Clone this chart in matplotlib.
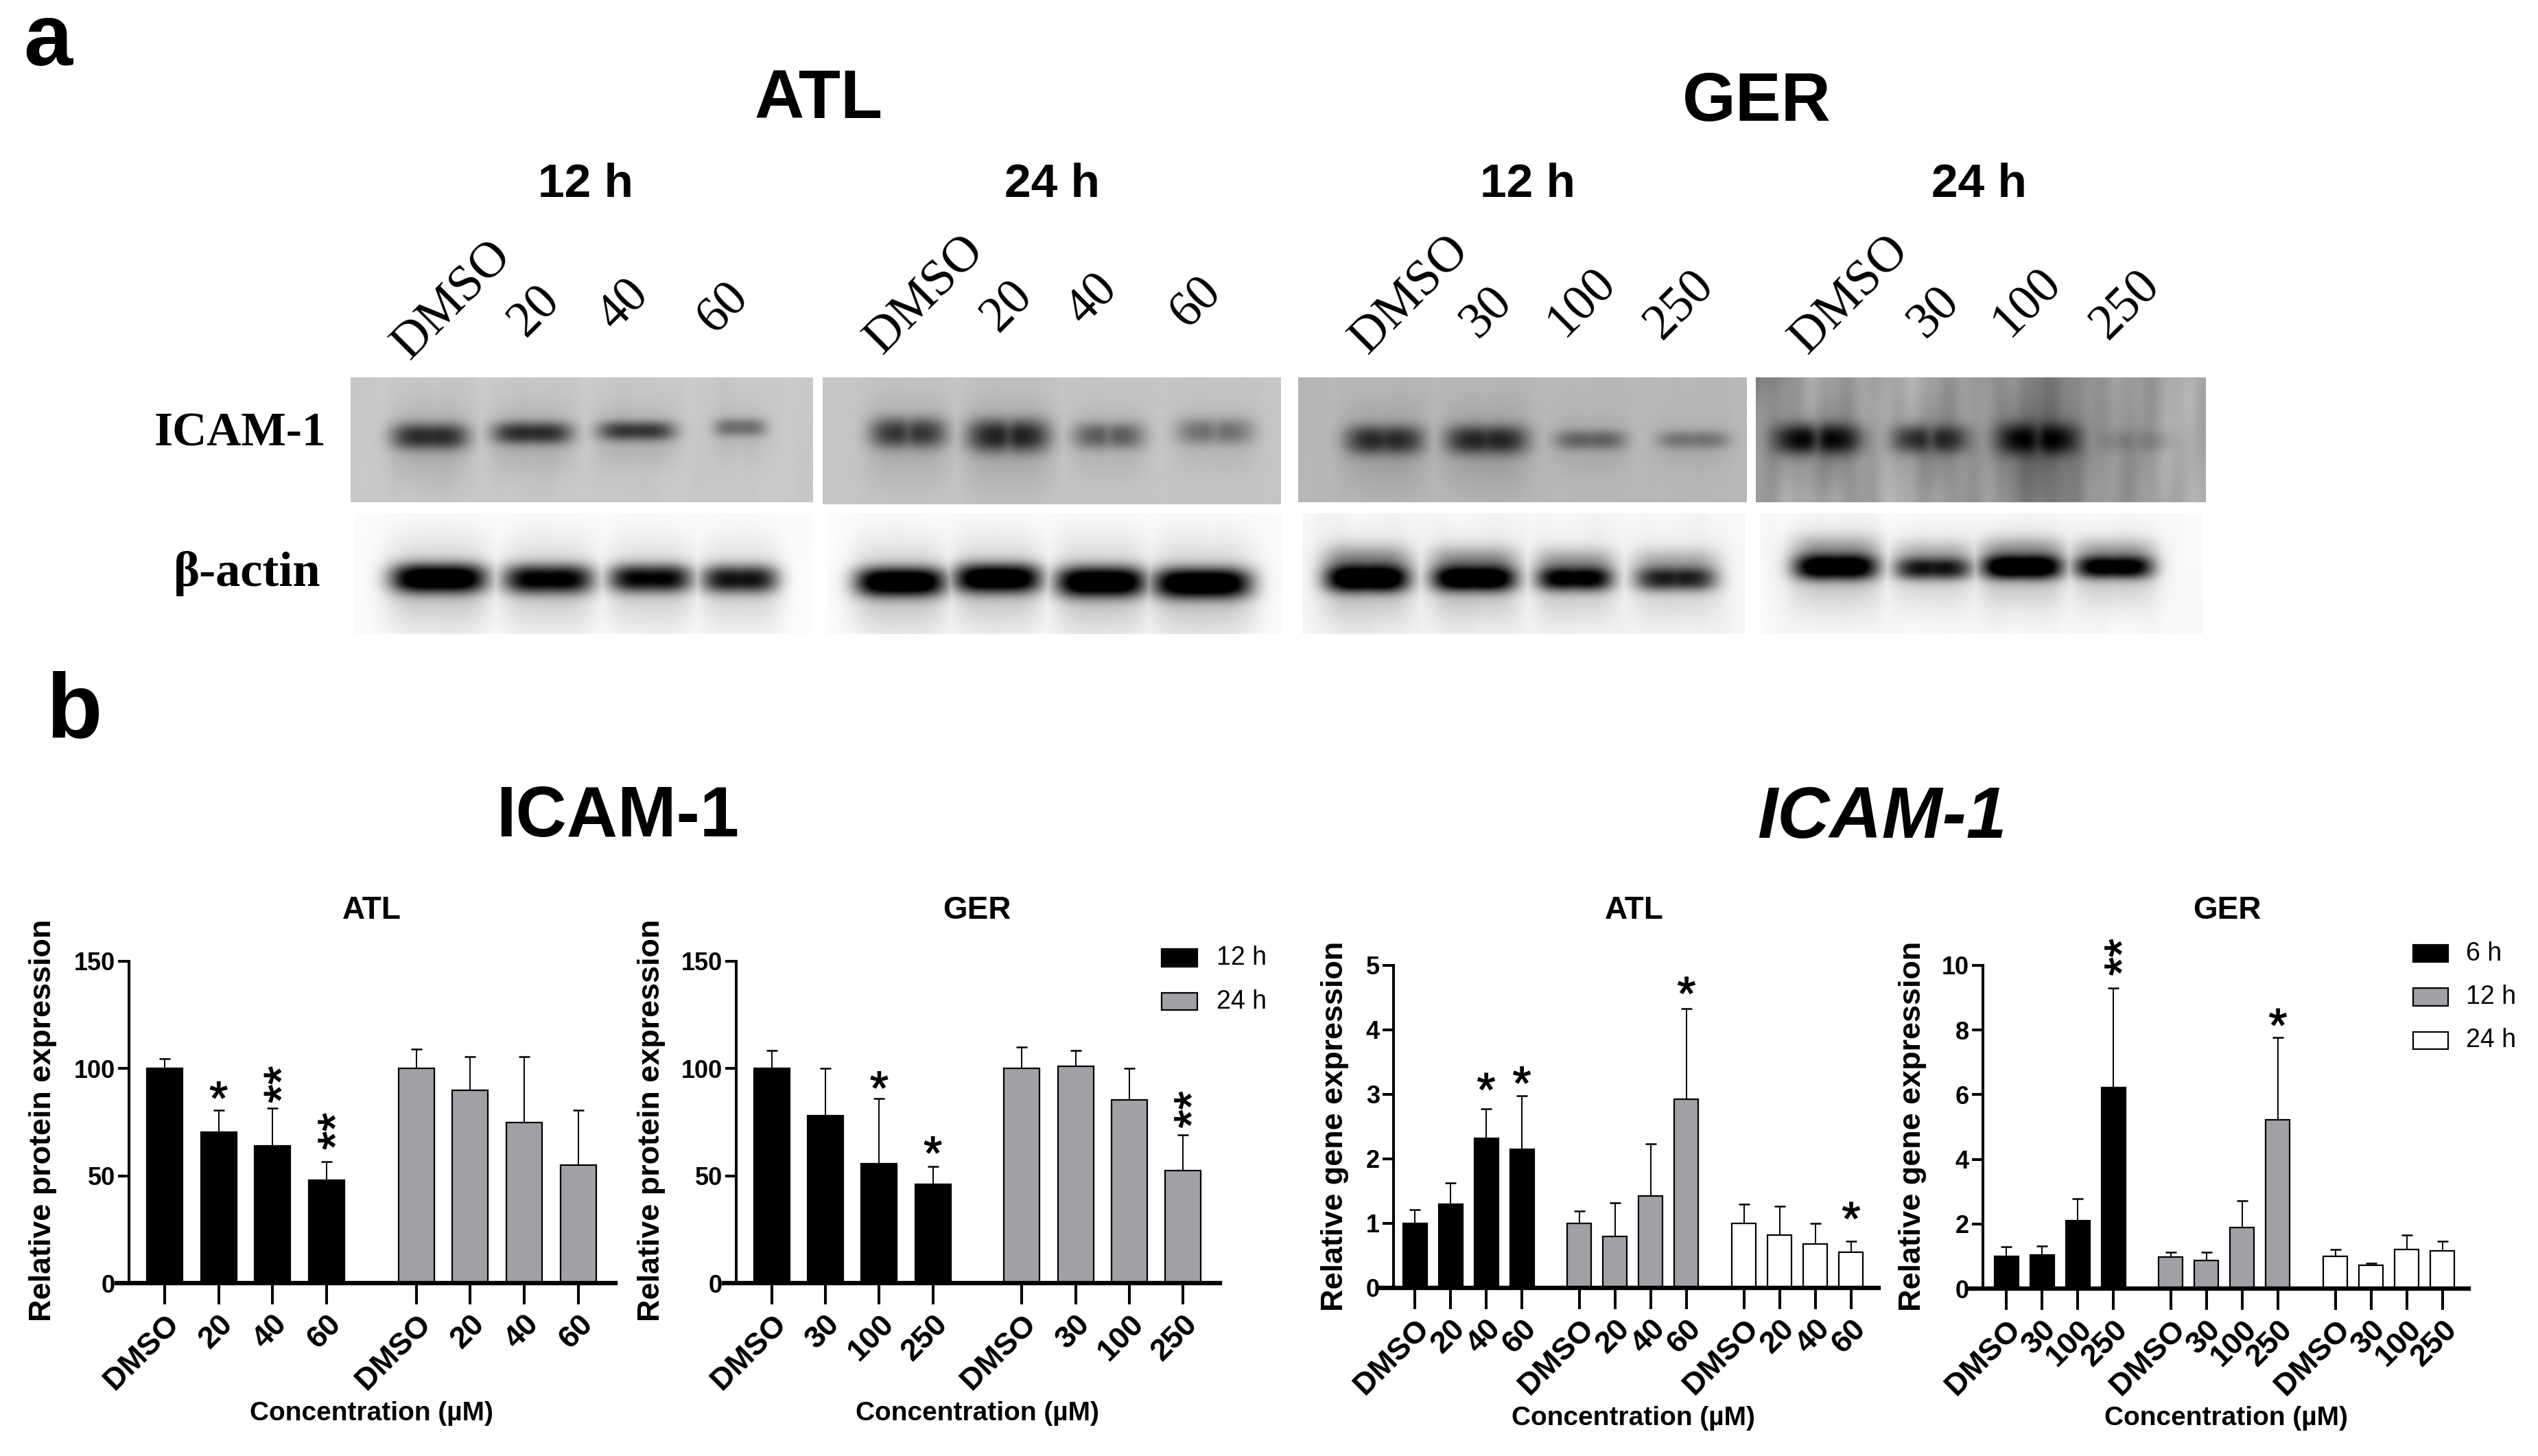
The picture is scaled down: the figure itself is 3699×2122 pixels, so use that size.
import numpy as np
import matplotlib
matplotlib.use("Agg")
import matplotlib.pyplot as plt
import matplotlib.patheffects as pe
from matplotlib.patches import Rectangle
from matplotlib.textpath import TextPath
from matplotlib.font_manager import FontProperties

W, H, DPI = 3699, 2122, 100
SANS = "Liberation Sans"
SERIF = "Liberation Serif"

# ---------- bar data ----------
atl_conc = ["DMSO", "20", "40", "60"]
ger_conc = ["DMSO", "30", "100", "250"]

prot_atl_12 = [100, 70.5, 64, 48]
prot_atl_12_err = [4.7, 10, 17.5, 8.5]
prot_atl_24 = [100, 90, 75, 55]
prot_atl_24_err = [9, 15.7, 30.6, 25.6]

prot_ger_12 = [100, 78, 55.7, 46]
prot_ger_12_err = [8.3, 22, 30.3, 8.5]
prot_ger_24 = [100, 101, 85.5, 52.5]
prot_ger_24_err = [10, 7.5, 14.5, 16.5]

gene_atl_6 = [1, 1.3, 2.32, 2.15]
gene_atl_6_err = [0.21, 0.33, 0.46, 0.83]
gene_atl_12 = [1, 0.8, 1.43, 2.93]
gene_atl_12_err = [0.19, 0.52, 0.8, 1.4]
gene_atl_24 = [1, 0.82, 0.68, 0.55]
gene_atl_24_err = [0.3, 0.45, 0.32, 0.17]

gene_ger_6 = [1, 1.05, 2.1, 6.22]
gene_ger_6_err = [0.3, 0.27, 0.68, 3.08]
gene_ger_12 = [0.98, 0.88, 1.9, 5.22]
gene_ger_12_err = [0.14, 0.24, 0.82, 2.56]
gene_ger_24 = [1, 0.73, 1.2, 1.17]
gene_ger_24_err = [0.22, 0.05, 0.45, 0.3]

# significance marks: (group, bar, height in data units, text)
stars_prot_atl = [(0, 1, 90, "*"), (0, 2, 92.5, "**"), (0, 3, 70.7, "**")]
stars_prot_ger = [(0, 2, 94.7, "*"), (0, 3, 64.4, "*"), (1, 3, 80.8, "**")]
stars_gene_atl = [(0, 2, 3.2, "*"), (0, 3, 3.3, "*"), (1, 3, 4.69, "*"), (2, 3, 1.2, "*")]
stars_gene_ger = [(0, 3, 10.25, "**"), (1, 3, 8.4, "*")]

BLACK, GREY, WHITE = "#000000", "#a0a1a4", "#ffffff"

# ---------- blot band tables: centre x, centre y, half-width, half-height, darkness ----------
icam_atl12 = [(626, 635, 56, 19, .62), (775, 630, 58, 16, .62), (927, 627, 56, 14, .58), (1078, 622, 38, 13, .36)]
icam_atl24 = [(1323, 631, 56, 22, .58), (1469, 635, 60, 24, .66), (1615, 635, 52, 19, .42), (1770, 629, 56, 19, .34)]
icam_ger12 = [(2017, 640, 57, 21, .62), (2166, 640, 60, 21, .64), (2317, 640, 52, 14, .38), (2467, 640, 52, 13, .30)]
icam_ger24 = [(2648, 639, 64, 22, .78), (2813, 639, 56, 20, .60), (2969, 639, 60, 23, .80), (3112, 642, 55, 15, .14)]
actin_atl12 = [(639, 842, 70, 21, .99), (799, 843, 66, 21, .84), (948, 842, 61, 20, .80), (1078, 843, 56, 20, .74)]
actin_atl24 = [(1312, 847, 66, 21, .99), (1453, 842, 64, 21, .97), (1604, 847, 66, 22, .99), (1751, 849, 72, 22, 1.0)]
actin_ger12 = [(1992, 843, 62, 19, 1.0), (2148, 843, 62, 18, .98), (2295, 843, 56, 17, .84), (2442, 843, 60, 17, .68)]
actin_ger24 = [(2675, 826, 62, 18, .96), (2817, 828, 57, 16, .72), (2947, 826, 60, 17, 1.0), (3081, 826, 58, 16, .88)]

blots = [
    # x0, x1, y0, y1, background, streak strength, two-lobe depth, upward smear, bands
    (511, 1185, 550, 732, .785, .012, .03, 0, icam_atl12),
    (1199, 1867, 550, 735, .775, .002, .22, 0, icam_atl24),
    (1892, 2546, 550, 732, .72, .006, .10, 0, icam_ger12),
    (2559, 3215, 550, 732, .66, .075, .38, 0, icam_ger24),
    (516, 1185, 748, 924, .985, .004, .03, 0, actin_atl12),
    (1206, 1870, 748, 924, .985, .004, .0, 0, actin_atl24),
    (1898, 2543, 748, 924, .965, .012, .06, .30, actin_ger12),
    (2565, 3210, 748, 924, .975, .010, .05, .25, actin_ger24),
]


def px_axes(fig, x0, y0, x1, y1, **kw):
    return fig.add_axes([x0 / W, 1 - y1 / H, (x1 - x0) / W, (y1 - y0) / H], **kw)


def ftext(fig, x, y, s, **kw):
    kw.setdefault("ha", "center")
    kw.setdefault("va", "center")
    kw.setdefault("family", SANS)
    return fig.text(x / W, 1 - y / H, s, **kw)


def draw_blot(fig, x0, x1, y0, y1, bg, streak, lobe, smear, bands):
    ax = px_axes(fig, x0, y0, x1, y1)
    xs = np.arange(x0, x1, 2.0)
    ys = np.arange(y0, y1, 2.0)
    X, Y = np.meshgrid(xs, ys)
    ph = x0 * 0.013
    tex = (np.sin(X * .045 + ph + np.sin(Y * .012) * 1.2)
           + .7 * np.sin(X * .083 + 2 * ph + np.sin(Y * .019) * 1.5)
           + .5 * np.sin(X * .17 + 3 * ph)) / 2.2
    img = bg + streak * tex
    dark = np.zeros_like(X)
    for cx, cy, hw, hh, d in bands:
        dx = (X - cx) / hw
        dy = (Y - cy) / hh
        core = np.exp(-dx ** 4) * np.exp(-np.abs(dy) ** 2.4)
        core = core * (1 - lobe * np.exp(-(dx / .16) ** 2))
        halo = .22 * np.exp(-(dx / 1.1) ** 4) * np.exp(-((Y - cy - .5 * hh) / (3 * hh)) ** 2)
        up = smear * np.exp(-(dx / 1.05) ** 4) * np.exp(-((Y - cy + 1.5 * hh) / (1.1 * hh)) ** 2)
        dark = np.maximum(dark, d * core + d * halo + d * up)
    img = img * (1 - np.clip(dark * 1.05, 0, 1))
    if streak > .05:
        img = img * (1 - .28 * np.exp(-(X - x0) / 60.) * np.exp(-(Y - y0) / 60.))
        img = img * (1 - .22 * np.exp(-((X - 2985) / 110.) ** 2))
    ax.imshow(np.clip(img, 0, 1), cmap="gray", vmin=0, vmax=1, aspect="auto", interpolation="bilinear")
    ax.axis("off")


def draw_star(ax, x, y, s, size=50):
    fp = FontProperties(family=SANS, size=size)
    cy = TextPath((0, 0), "*", prop=fp).get_extents()
    c = (cy.y0 + cy.y1) / 2
    stroke = [pe.withStroke(linewidth=0.9, foreground="black")]
    if s == "*":
        ax.annotate(s, (x, y), xytext=(0, -c), textcoords="offset points", ha="center", va="baseline",
                    fontproperties=fp, annotation_clip=False, path_effects=stroke)
    else:
        ax.annotate(s, (x, y), xytext=(c, 0), textcoords="offset points", ha="center", va="baseline",
                    rotation=90, rotation_mode="anchor", fontproperties=fp, annotation_clip=False,
                    path_effects=stroke)


def bar_panel(fig, box, axis_x, ymax, yticks, labels, series, gap, bar_px, stars, title, title_x, title_y,
              ylabel, ylabel_x, ylabel_y, xlabel_x, xlabel_y, first_px, spacing_px):
    x0, y0, x1, y1 = box
    ax = px_axes(fig, x0, y0, x1, y1)
    ax.patch.set_alpha(0)
    n = len(labels)
    to_data = lambda p: (p - first_px) / spacing_px
    ticks, ticklabels, centre = [], [], {}
    for g, (vals, errs, col) in enumerate(series):
        xs = np.arange(n) + g * (n - 1 + gap)
        ax.bar(xs, vals, width=bar_px / spacing_px, color=col, edgecolor="black", linewidth=1.6, zorder=2)
        ax.errorbar(xs, vals, yerr=[np.zeros(n), errs], fmt="none", ecolor="black", elinewidth=1.4,
                    capsize=5.5, capthick=1.8, zorder=1)
        ticks.extend(xs)
        ticklabels.extend(labels)
        for i, x in enumerate(xs):
            centre[(g, i)] = x
    ax.set_xlim(to_data(x0), to_data(x1))
    ax.set_ylim(0, ymax)
    ax.spines["top"].set_visible(False)
    ax.spines["right"].set_visible(False)
    ax.spines["left"].set_position(("data", to_data(axis_x)))
    ax.spines["left"].set_linewidth(2.9)
    ax.spines["bottom"].set_linewidth(4.6)
    ax.spines["bottom"].set_zorder(5)
    ax.set_yticks(yticks)
    ax.set_xticks(ticks)
    ax.set_xticklabels(ticklabels, rotation=45, ha="right", va="top", rotation_mode="anchor",
                       family=SANS, weight="bold", fontsize=32.5)
    for lab in ax.get_yticklabels():
        lab.set_family(SANS)
        lab.set_weight("bold")
        lab.set_fontsize(26)
    ax.tick_params(axis="y", length=11.5, width=2.9, pad=3)
    ax.tick_params(axis="x", length=22, width=2.9, pad=6)
    for g, i, y, s in stars:
        draw_star(ax, centre[(g, i)], y, s)
    ftext(fig, title_x, title_y, title, weight="bold", fontsize=33)
    ftext(fig, ylabel_x, ylabel_y, ylabel, weight="bold", fontsize=32.4, rotation=90)
    ftext(fig, xlabel_x, xlabel_y, "Concentration (µM)", weight="bold", fontsize=28)
    return ax


def legend_items(fig, x0, x1, tx, rows):
    for (y0, y1, col, lab) in rows:
        fig.add_artist(Rectangle((x0 / W, 1 - y1 / H), (x1 - x0) / W, (y1 - y0) / H, transform=fig.transFigure,
                                 facecolor=col, edgecolor="black", linewidth=1.6))
        ftext(fig, tx, (y0 + y1) / 2, lab, ha="left", fontsize=27)


fig = plt.figure(figsize=(W / DPI, H / DPI), dpi=DPI, facecolor="white")

# panel letters and headings
ftext(fig, 70, 62, "a", weight="bold", fontsize=92)
ftext(fig, 108, 1040, "b", weight="bold", fontsize=96)
ftext(fig, 1193, 146, "ATL", weight="bold", fontsize=72)
ftext(fig, 2560, 150, "GER", weight="bold", fontsize=72)
for x, s in [(853, "12 h"), (1533, "24 h"), (2226, "12 h"), (2884, "24 h")]:
    ftext(fig, x, 269, s, weight="bold", fontsize=50)

# lane labels (bottom-left anchors)
lane_sets = [
    (atl_conc, [(598, 526), (766, 493), (896, 484), (1042, 488)]),
    (atl_conc, [(1287, 518), (1455, 486), (1579, 476), (1731, 480)]),
    (ger_conc, [(1994, 518), (2154, 495), (2279, 493), (2422, 497)]),
    (ger_conc, [(2635, 518), (2806, 495), (2928, 493), (3072, 497)]),
]
for labs, anchors in lane_sets:
    for s, (x, y) in zip(labs, anchors):
        ftext(fig, x, y, s, family=SERIF, fontsize=53, rotation=45, rotation_mode="anchor",
              ha="left", va="baseline")

for b in blots:
    draw_blot(fig, *b)

ftext(fig, 350, 632, "ICAM-1", family=SERIF, weight="bold", fontsize=50)
ftext(fig, 360, 836, "β-actin", family=SERIF, weight="bold", fontsize=52)

ftext(fig, 900, 1193, "ICAM-1", weight="bold", fontsize=74)
ftext(fig, 2743, 1193, "ICAM-1", weight="bold", style="italic", fontsize=76)

bar_panel(fig, (170, 1401, 897, 1870), 188, 150, [0, 50, 100, 150], atl_conc,
          [(prot_atl_12, prot_atl_12_err, BLACK), (prot_atl_24, prot_atl_24_err, GREY)],
          1.66, 52, stars_prot_atl, "ATL", 542, 1327, "Relative protein expression", 63, 1633, 541, 2060, 240, 78.7)
bar_panel(fig, (1055, 1401, 1778, 1870), 1073, 150, [0, 50, 100, 150], ger_conc,
          [(prot_ger_12, prot_ger_12_err, BLACK), (prot_ger_24, prot_ger_24_err, GREY)],
          1.66, 52, stars_prot_ger, "GER", 1424, 1327, "Relative protein expression", 949, 1633, 1424, 2060, 1125, 78.2)
bar_panel(fig, (2010, 1407, 2738, 1877), 2031, 5, [0, 1, 2, 3, 4, 5], atl_conc,
          [(gene_atl_6, gene_atl_6_err, BLACK), (gene_atl_12, gene_atl_12_err, GREY), (gene_atl_24, gene_atl_24_err, WHITE)],
          1.615, 35, stars_gene_atl, "ATL", 2382, 1327, "Relative gene expression", 1946, 1641, 2380, 2067, 2062, 52)
bar_panel(fig, (2869, 1407, 3598, 1878), 2890, 10, [0, 2, 4, 6, 8, 10], ger_conc,
          [(gene_ger_6, gene_ger_6_err, BLACK), (gene_ger_12, gene_ger_12_err, GREY), (gene_ger_24, gene_ger_24_err, WHITE)],
          1.615, 35, stars_gene_ger, "GER", 3246, 1327, "Relative gene expression", 2787, 1641, 3244, 2067, 2924, 52)

legend_items(fig, 1693, 1745, 1773, [(1383, 1409, BLACK, "12 h"), (1447, 1472, GREY, "24 h")])
legend_items(fig, 3517, 3568, 3594, [(1377, 1402, BLACK, "6 h"), (1440, 1466, GREY, "12 h"), (1504, 1529, WHITE, "24 h")])

fig.savefig("out.png", dpi=DPI, facecolor="white")
